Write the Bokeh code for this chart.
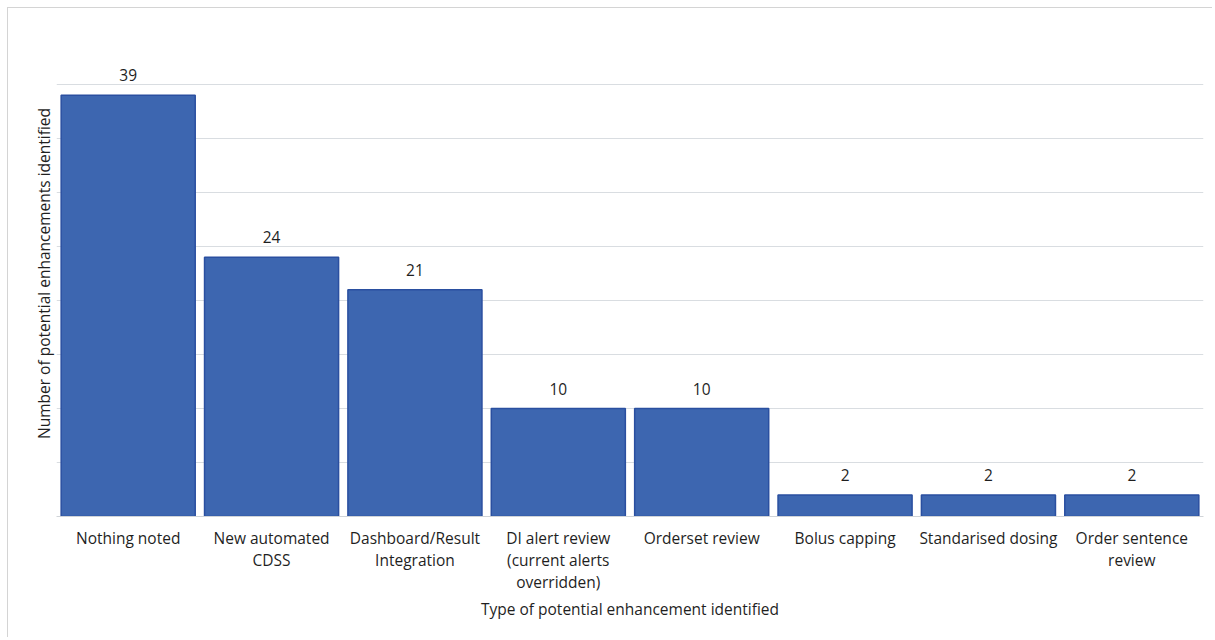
from bokeh.plotting import figure
from bokeh.models import ColumnDataSource, FactorRange, Range1d, FixedTicker, LabelSet
from bokeh.core.properties import value
from bokeh.embed import file_html
from bokeh.resources import INLINE

categories = ["Nothing noted", "New automated\nCDSS", "Dashboard/Result\nIntegration",
              "DI alert review\n(current alerts\noverridden)", "Orderset review",
              "Bolus capping", "Standarised dosing", "Order sentence\nreview"]
counts = [39, 24, 21, 10, 10, 2, 2, 2]
grid_ticks = [5, 10, 15, 20, 25, 30, 35, 40, 45]

FONT = "Open Sans"
TXT = "#1f1f1f"
FS = "15.5px"

src = ColumnDataSource(dict(cat=categories, val=counts, lab=[str(v) for v in counts]))

p = figure(x_range=FactorRange(*categories, range_padding=0), y_range=Range1d(0, 45),
           width=1205, height=630, output_backend="svg", toolbar_location=None,
           min_border_left=48, min_border_right=10, min_border_top=22, min_border_bottom=122)
p.styles = {"margin-left": "7px", "margin-top": "7px",
            "border-left": "1px solid #d4d4d4", "border-top": "1px solid #d4d4d4"}
p.outline_line_color = None
p.background_fill_color = "white"
p.border_fill_color = "white"

p.vbar(x="cat", top="val", width=0.935, source=src, fill_color="#3d66b0",
       line_color="#2a4fa0", line_width=1.5)

labels = LabelSet(x="cat", y="val", text="lab", source=src, text_align="center",
                  text_baseline="bottom", y_offset=14, text_font=value(FONT),
                  text_font_size=value(FS), text_color=value(TXT))
p.add_layout(labels)

p.xgrid.grid_line_color = None
p.ygrid.ticker = FixedTicker(ticks=grid_ticks)
p.ygrid.grid_line_color = "#d9dde1"
p.ygrid.grid_line_width = 1

p.yaxis.ticker = FixedTicker(ticks=[])
p.yaxis.axis_line_color = None
p.yaxis.major_tick_line_color = None
p.yaxis.minor_tick_line_color = None
p.yaxis.axis_label = "Number of potential enhancements identified"
p.yaxis.axis_label_text_font = FONT
p.yaxis.axis_label_text_font_size = FS
p.yaxis.axis_label_text_font_style = "normal"
p.yaxis.axis_label_text_color = TXT
p.yaxis.axis_label_standoff = 2

p.xaxis.axis_line_color = "#d0d4d8"
p.xaxis.major_tick_line_color = None
p.xaxis.minor_tick_line_color = None
p.xaxis.major_tick_out = 0
p.xaxis.major_label_text_font = FONT
p.xaxis.major_label_text_font_size = FS
p.xaxis.major_label_text_color = TXT
p.xaxis.major_label_text_line_height = 1.0
p.xaxis.major_label_standoff = 10
p.xaxis.major_label_orientation = "horizontal"
p.xaxis.axis_label = "Type of potential enhancement identified"
p.xaxis.axis_label_text_font = FONT
p.xaxis.axis_label_text_font_size = FS
p.xaxis.axis_label_text_font_style = "normal"
p.xaxis.axis_label_text_color = TXT
p.xaxis.axis_label_standoff = 2

open("out.html", "w").write(file_html(p, INLINE))
